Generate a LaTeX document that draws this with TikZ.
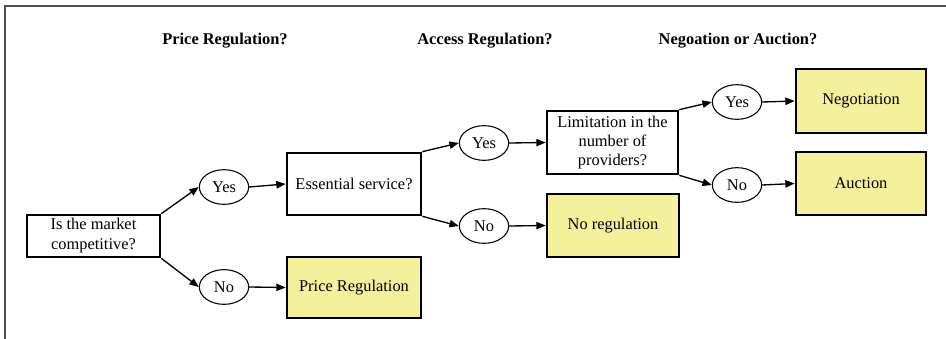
\documentclass[tikz,border=0pt]{standalone}
\usepackage{fontspec}
\setmainfont{Liberation Serif}
\usetikzlibrary{arrows.meta,shapes.geometric}
\definecolor{resyellow}{RGB}{245,240,155}
\definecolor{framegray}{RGB}{80,80,80}
\begin{document}
\begin{tikzpicture}[x=0.75pt,y=-0.75pt,
  every node/.style={font=\fontsize{12.3}{15}\selectfont, inner sep=0pt},
  qbox/.style={draw=black, line width=2pt, rectangle, align=center},
  rbox/.style={qbox, fill=resyellow},
  oval/.style={draw=black, line width=0.8pt, ellipse, minimum width=37pt, minimum height=26pt},
  heading/.style={font=\bfseries\fontsize{12.3}{15}\selectfont},
  conn/.style={line width=1pt, -{Triangle[length=7pt,width=5.5pt]}}
]
\useasboundingbox (0,0) rectangle (946,339);
\draw[framegray, line width=1.1pt] (5,339) -- (5,6) -- (946,6);

\node[heading] (h1) at (225,41) {Price Regulation?};
\node[heading] (h2) at (485,41) {Access Regulation?};
\node[heading] (h3) at (738,41) {Negoation or Auction?};

\node[qbox, minimum width=99.75pt, minimum height=31.5pt] (q1) at (93.5,236) {Is the market\\competitive?};
\node[qbox, minimum width=100.5pt, minimum height=46.5pt] (q2) at (354,184) {Essential service?};
\node[rbox, minimum width=100.5pt, minimum height=45.75pt] (r1) at (354,287.5) {Price Regulation};
\node[qbox, minimum width=98.25pt, minimum height=47.25pt, font=\fontsize{12.3}{14.5}\selectfont] (q3) at (612.5,142.5) {Limitation in the\\number of\\providers?};
\node[rbox, minimum width=99pt, minimum height=47.25pt] (r2) at (613,225.5) {No regulation};
\node[rbox, minimum width=97.5pt, minimum height=48pt] (r3) at (861,101) {Negotiation};
\node[rbox, minimum width=97.5pt, minimum height=47.25pt] (r4) at (861,183.5) {Auction};

\node[oval] (y1) at (224,187) {Yes};
\node[oval] (n1) at (224,287) {No};
\node[oval] (y2) at (484,143) {Yes};
\node[oval] (n2) at (484,226) {No};
\node[oval] (y3) at (737,102) {Yes};
\node[oval] (n3) at (737,185) {No};

\draw[conn] (q1.north east) -- (y1.west);
\draw[conn] (q1.south east) -- (n1.west);
\draw[conn] (y1.east) -- (q2.west);
\draw[conn] (n1.east) -- (r1.west);
\draw[conn] (q2.north east) -- (y2.west);
\draw[conn] (q2.south east) -- (n2.west);
\draw[conn] (y2.east) -- (q3.west);
\draw[conn] (n2.east) -- (r2.west);
\draw[conn] (q3.north east) -- (y3.west);
\draw[conn] (q3.south east) -- (n3.west);
\draw[conn] (y3.east) -- (r3.west);
\draw[conn] (n3.east) -- (r4.west);
\end{tikzpicture}
\end{document}
